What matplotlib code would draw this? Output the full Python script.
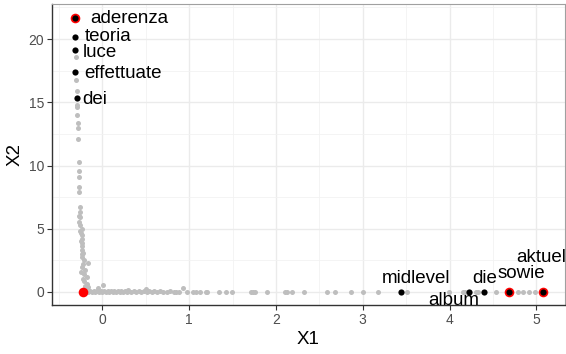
import matplotlib
matplotlib.use("Agg")
import matplotlib.pyplot as plt
import numpy as np

plt.rcParams['font.family'] = ['Liberation Sans', 'DejaVu Sans']

# Background words (grey): vertical arm along X2 and horizontal arm along X1
bg_x = [-0.30, -0.30, -0.29, -0.29, -0.29, -0.29, -0.28, -0.28, -0.28, -0.27,
        -0.27, -0.27, -0.27, -0.27, -0.26, -0.26, -0.26, -0.27, -0.26, -0.24,
        -0.25, -0.24, -0.23, -0.24, -0.23, -0.24, -0.22, -0.23, -0.21, -0.22,
        -0.23, -0.20, -0.21, -0.18, -0.21, -0.18, -0.17, -0.19, -0.17,
        -0.18, -0.16, -0.14, -0.12, -0.10, -0.08, -0.06, -0.04, -0.02, 0.00,
        0.02, 0.04, 0.06, 0.08, 0.10, 0.12, 0.14, 0.16, 0.18, 0.20, 0.22,
        0.24, 0.26, 0.28, 0.30, 0.33, 0.36, 0.39, 0.42, 0.45, 0.48, 0.51,
        0.54, 0.57, 0.60, 0.63, 0.66, 0.70, 0.74, 0.78, 0.82, 0.85, 0.88,
        -0.05, 0.01, 0.30, 0.50, 0.93, 0.98, 1.04, 1.08, 1.13, 1.19, 1.21,
        1.34, 1.42, 1.49, 1.71, 1.74, 1.76, 1.90, 2.11, 2.13, 2.19, 2.32,
        2.59, 2.68, 2.86, 3.00, 3.17, 3.51, 3.99, 4.15, 4.18, 4.30, 4.33,
        4.53, 4.79, 4.85, 4.91, 4.99,
        -0.27, -0.26, -0.25, -0.24, -0.25, -0.22, -0.20]
bg_y = [18.6, 16.8, 15.9, 14.8, 14.6, 14.0, 13.4, 13.0, 12.1, 10.3,
        9.6, 9.1, 8.3, 7.9, 6.7, 6.3, 5.9, 5.5, 5.3, 5.0,
        4.7, 4.5, 4.2, 3.9, 3.6, 3.3, 3.1, 2.8, 2.55, 2.2,
        2.0, 1.75, 1.4, 1.2, 0.9, 0.65, 0.4, 0.15, 2.3,
        0.05, 0.0, 0.08, 0.0, 0.05, 0.0, 0.1, 0.0, 0.05, 0.0,
        0.08, 0.0, 0.05, 0.0, 0.1, 0.0, 0.05, 0.0, 0.08, 0.0, 0.05,
        0.0, 0.1, 0.0, 0.05, 0.0, 0.08, 0.0, 0.05, 0.0, 0.1, 0.0,
        0.05, 0.0, 0.08, 0.0, 0.05, 0.0, 0.0, 0.05, 0.0, 0.0, 0.0,
        0.35, 0.55, 0.15, 0.2, 0.3, 0.0, 0.0, 0.0, 0.0, 0.0, 0.0,
        0.0, 0.0, 0.0, 0.0, 0.0, 0.0, 0.0, 0.0, 0.0, 0.0, 0.0,
        0.0, 0.0, 0.0, 0.0, 0.0, 0.0, 0.0, 0.0, 0.0, 0.0, 0.0,
        0.0, 0.0, 0.0, 0.0, 0.0,
        6.0, 4.8, 4.0, 3.0, 1.6, 1.0, 0.5]

# Highlighted words (red)
red_x = [-0.32, -0.22, 4.68, 5.08]
red_y = [21.66, -0.03, 0.0, 0.0]

# Labelled words (black)
words = ["aderenza", "teoria", "luce", "effettuate", "dei",
         "midlevel", "album", "die", "sowie", "aktuel"]
word_x = [-0.32, -0.31, -0.31, -0.31, -0.29, 3.44, 4.22, 4.40, 4.68, 5.08]
word_y = [21.66, 20.16, 19.13, 17.39, 15.34, 0.0, 0.0, 0.0, 0.0, 0.0]
label_x = [-0.14, -0.20, -0.22, -0.21, -0.23, 3.61, 4.05, 4.40, 4.83, 5.06]
label_y = [21.66, 20.20, 18.90, 17.30, 15.20, 1.10, -0.70, 1.03, 1.50, 2.69]
label_ha = ["left", "left", "left", "left", "left",
            "center", "center", "center", "center", "center"]

fig = plt.figure(figsize=(5.66, 3.54), dpi=100)
ax = fig.add_axes([52 / 566, 1 - 305 / 354, (565 - 52) / 566, (305 - 4) / 354])

ax.set_xlim(-0.58, 5.33)
ax.set_ylim(-1.03, 22.77)

ax.set_xticks([0, 1, 2, 3, 4, 5])
ax.set_yticks([0, 5, 10, 15, 20])
ax.set_xticks(np.arange(-0.5, 5.4, 1.0), minor=True)
ax.set_yticks([2.5, 7.5, 12.5, 17.5, 22.5], minor=True)
ax.grid(which='major', color='#EBEBEB', linewidth=1.0, zorder=0)
ax.grid(which='minor', color='#F2F2F2', linewidth=0.6, zorder=0)
ax.set_axisbelow(True)

ax.tick_params(which='minor', length=0)
ax.tick_params(which='major', length=3.5, width=0.8, color='#333333',
               labelsize=10, labelcolor='#4D4D4D', pad=2)

for side in ['left', 'bottom']:
    ax.spines[side].set_color('#333333')
    ax.spines[side].set_linewidth(1.0)
for side in ['top', 'right']:
    ax.spines[side].set_color('#A0A0A0')
    ax.spines[side].set_linewidth(0.8)

ax.scatter(bg_x, bg_y, s=13, color='#BEBEBE', linewidths=0, zorder=2)
ax.scatter(red_x, red_y, s=48, color='#FF0000', linewidths=0, zorder=3)
ax.scatter(word_x, word_y, s=20, color='black', linewidths=0, zorder=4)

for w, lx, ly, ha in zip(words, label_x, label_y, label_ha):
    ax.text(lx, ly, w, fontsize=13.5, ha=ha, va='center', color='black', zorder=5)

ax.set_xlabel("X1", fontsize=13.5, labelpad=3)
ax.set_ylabel("X2", fontsize=13.5, labelpad=4)

fig.savefig("out.png", dpi=100)
